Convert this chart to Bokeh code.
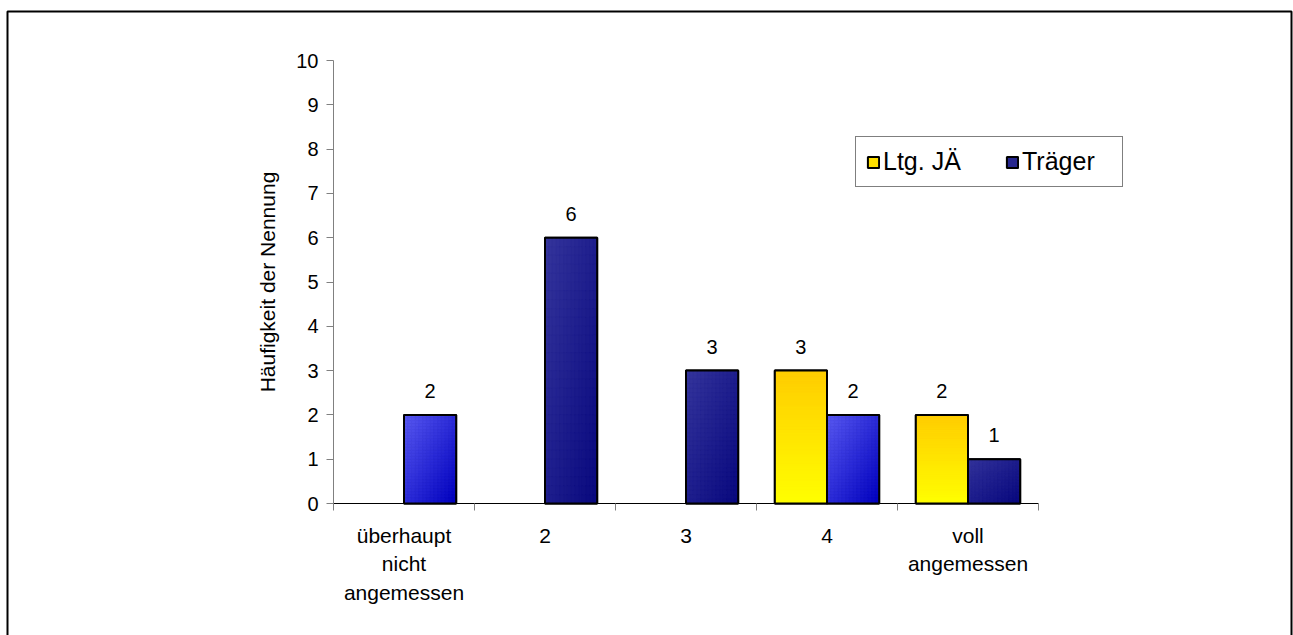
from bokeh.plotting import figure
from bokeh.models import (ColumnDataSource, LabelSet, FixedTicker, LinearAxis,
                          Legend, LegendItem, Range1d)
from bokeh.core.properties import value
from bokeh.embed import file_html
from bokeh.resources import INLINE

# Ratings scale and counts per respondent group
categories = ["überhaupt\nnicht\nangemessen", "2", "3", "4", "voll\nangemessen"]
ltg_ja = [0, 0, 0, 3, 2]
traeger = [2, 6, 3, 2, 1]
series_names = ["Ltg. JÄ", "Träger"]
y_ticks = list(range(0, 11))

FONT = "Liberation Sans"
BAR_W = 0.37

# canvas geometry: plot area spans x 333..1038 px and y 503..60 px
W, H = 1293, 635
AX_L, AX_R, AX_B, AX_T = 333, 1038, 503, 60
N = len(categories)
YMAX = 10
px_x = (AX_R - AX_L) / N
px_y = (AX_B - AX_T) / YMAX


def x_at(px):
    return (px - AX_L) / px_x


def y_at(py):
    return (AX_B - py) / px_y


# gradient end colours per bar (top/left colour, bottom/right colour)
yellow_grad = ("#FFCC00", "#FFFF00")
blue_light = ("#5A5AF2", "#0000BE")
blue_dark = ("#35359C", "#08087E")
traeger_shade = [blue_light, blue_dark, blue_dark, blue_light, blue_dark]


def hex2rgb(h):
    h = h.lstrip("#")
    return tuple(int(h[i:i + 2], 16) for i in (0, 2, 4))


def mix(c0, c1, t):
    a, b = hex2rgb(c0), hex2rgb(c1)
    return "#%02x%02x%02x" % tuple(int(round(a[k] + (b[k] - a[k]) * t)) for k in range(3))


p = figure(width=W, height=H, output_backend="svg", toolbar_location=None,
           x_range=Range1d(x_at(0), x_at(W)), y_range=Range1d(y_at(H), y_at(0)),
           min_border=0, min_border_left=0, min_border_right=0,
           min_border_top=0, min_border_bottom=0,
           x_axis_type=None, y_axis_type=None)
p.title.visible = False
p.background_fill_color = "white"
p.border_fill_color = "white"
p.outline_line_color = None
p.xgrid.visible = False
p.ygrid.visible = False

x_ltg = [i + 0.5 - BAR_W / 2 for i in range(N)]
x_tr = [i + 0.5 + BAR_W / 2 for i in range(N)]


def nonzero(xs, vals):
    return ([x for x, v in zip(xs, vals) if v > 0], [v for v in vals if v > 0])


# solid base bars (also used as legend swatches)
lx, lv = nonzero(x_ltg, ltg_ja)
tx, tv = nonzero(x_tr, traeger)
base_ltg = p.vbar(x=lx, top=lv, bottom=0, width=BAR_W, fill_color="#FFE000",
                  line_color="black", line_width=2)
base_tr = p.vbar(x=tx, top=tv, bottom=0, width=BAR_W, fill_color="#27278E",
                 line_color="black", line_width=2)

# gradient shading of each bar
cells = dict(left=[], right=[], bottom=[], top=[], color=[])


def gradient_bar(xc, height, colours, mode):
    if height <= 0:
        return
    nx, ny = (1, 40) if mode == "v" else (14, 30)
    x0 = xc - BAR_W / 2
    dx = BAR_W / nx
    dy = height / ny
    for i in range(nx):
        for j in range(ny):
            frac_down = (j + 0.5) / ny
            t = frac_down if mode == "v" else ((i + 0.5) / nx + frac_down) / 2
            cells["left"].append(x0 + i * dx)
            cells["right"].append(x0 + (i + 1) * dx)
            cells["top"].append(height - j * dy)
            cells["bottom"].append(height - (j + 1) * dy)
            cells["color"].append(mix(colours[0], colours[1], t))


for i in range(N):
    gradient_bar(x_ltg[i], ltg_ja[i], yellow_grad, "v")
    gradient_bar(x_tr[i], traeger[i], traeger_shade[i], "d")

p.quad(left="left", right="right", bottom="bottom", top="top",
       fill_color="color", line_color="color", line_width=0.6,
       source=ColumnDataSource(cells))

# black outlines on top
p.vbar(x=lx, top=lv, bottom=0, width=BAR_W, fill_color=None, line_color="black", line_width=2)
p.vbar(x=tx, top=tv, bottom=0, width=BAR_W, fill_color=None, line_color="black", line_width=2)

# value labels above the bars
lab = dict(x=lx + tx, y=lv + tv, t=[str(v) for v in lv + tv])
p.add_layout(LabelSet(x="x", y="y", text="t", source=ColumnDataSource(lab),
                      text_align="center", text_baseline="middle", y_offset=24,
                      text_font=value(FONT), text_font_size="20px", text_color="black"))

# axes
yax = LinearAxis(ticker=FixedTicker(ticks=y_ticks, minor_ticks=[]),
                 axis_label="Häufigkeit der Nennung", fixed_location=0, bounds=(0, YMAX))
yax.axis_line_color = "#808080"
yax.major_tick_line_color = "#808080"
yax.major_tick_out = 7
yax.major_tick_in = 0
yax.minor_tick_line_color = None
yax.major_label_text_font = FONT
yax.major_label_text_font_size = "20px"
yax.major_label_text_color = "black"
yax.major_label_standoff = 8
yax.axis_label_text_font = FONT
yax.axis_label_text_font_size = "21px"
yax.axis_label_text_font_style = "normal"
yax.axis_label_text_color = "black"
yax.axis_label_standoff = 14
p.add_layout(yax, "left")

xax = LinearAxis(ticker=FixedTicker(ticks=[i + 0.5 for i in range(N)],
                                    minor_ticks=list(range(N + 1))),
                 fixed_location=0, bounds=(0, N))
xax.major_label_overrides = {i + 0.5: c for i, c in enumerate(categories)}
xax.axis_line_color = "black"
xax.major_tick_line_color = None
xax.minor_tick_line_color = "#808080"
xax.minor_tick_out = 7
xax.minor_tick_in = 0
xax.major_label_text_font = FONT
xax.major_label_text_font_size = "21px"
xax.major_label_text_color = "black"
xax.major_label_text_line_height = 1.25
xax.major_label_standoff = 13
p.add_layout(xax, "below")

# legend
legend = Legend(items=[LegendItem(label=series_names[0], renderers=[base_ltg]),
                       LegendItem(label=series_names[1], renderers=[base_tr])],
                orientation="horizontal", location=(855, H - 187),
                label_text_font=FONT, label_text_font_size="25px",
                label_text_color="black",
                glyph_width=14, glyph_height=14, label_standoff=3,
                label_width=90, spacing=32, padding=10, margin=0,
                border_line_color="black", border_line_width=1,
                background_fill_color="white", background_fill_alpha=1)
p.add_layout(legend)

# frame line around the chart (its bottom edge lies below the page)
p.line(x=[x_at(7), x_at(7), x_at(1291), x_at(1291)],
       y=[y_at(H + 20), y_at(11), y_at(11), y_at(H + 20)],
       line_color="black", line_width=2)

open("out.html", "w").write(file_html(p, INLINE))
